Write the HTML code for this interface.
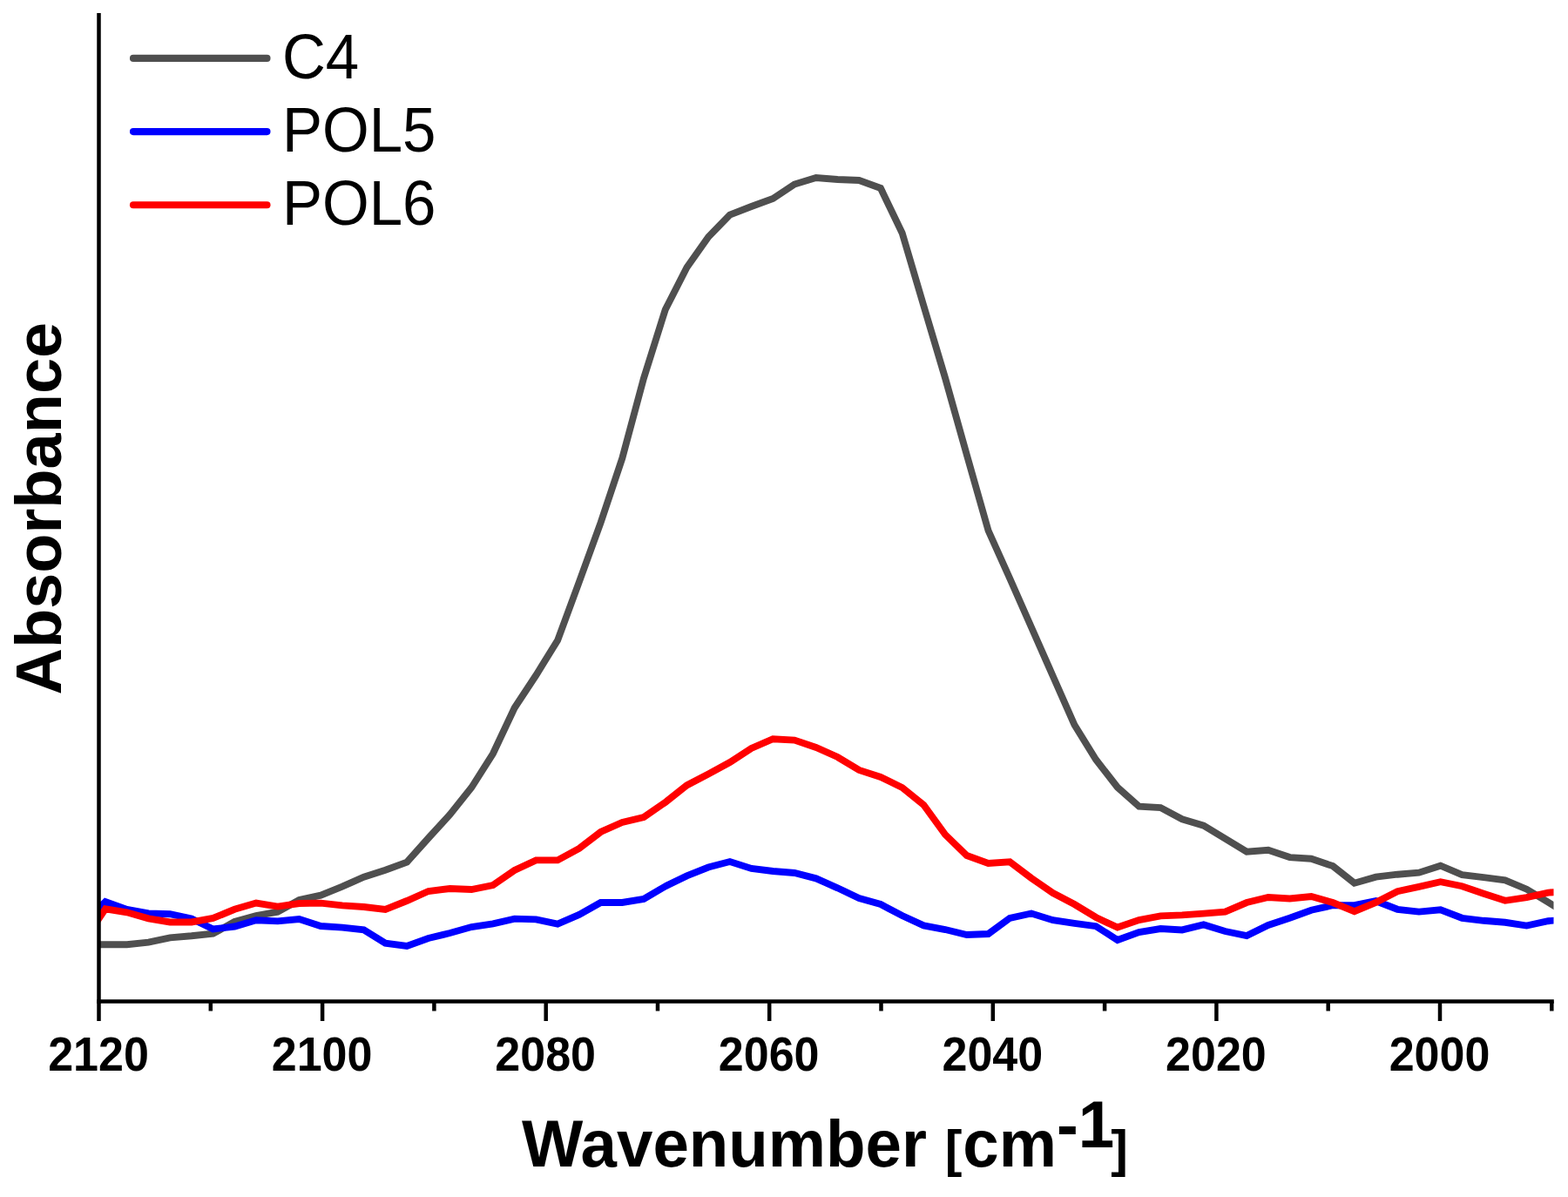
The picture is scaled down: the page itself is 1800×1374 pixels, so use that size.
<!DOCTYPE html>
<html lang="en">
<head>
<meta charset="utf-8">
<title>Absorbance</title>
<style>
html,body{margin:0;padding:0;background:#fff;}
body{width:1800px;height:1374px;overflow:hidden;}
svg{display:block;}
text{font-family:"Liberation Sans",Arial,Helvetica,sans-serif;fill:#000;}
.tick{font-weight:bold;font-size:52px;text-anchor:middle;}
.axl{font-weight:bold;font-size:74.5px;}
.ayl{font-weight:bold;font-size:74px;text-anchor:middle;}
.leg{font-size:69px;}
.curve{fill:none;stroke-width:7.9;stroke-linejoin:miter;stroke-linecap:butt;}
.legline{fill:none;stroke-width:8.1;stroke-linecap:round;}
.ax{stroke:#000;stroke-width:4.5;fill:none;stroke-linecap:butt;}
</style>
</head>
<body>
<svg width="1800" height="1374" viewBox="0 0 1800 1374" role="img" aria-label="Absorbance versus Wavenumber [cm-1] for C4, POL5 and POL6">
<rect x="0" y="0" width="1800" height="1374" fill="#ffffff"/>
<defs><clipPath id="plot"><rect x="113.5" y="0" width="1670.0" height="1160"/></clipPath></defs>
<g clip-path="url(#plot)">
<polyline class="curve" stroke="#4f4f4f" points="96.28,1084.2 121,1084.2 145.72,1084.2 170.44,1081.7 195.16,1076.3 219.88,1074.3 244.6,1071.7 269.32,1058 294.04,1051 318.76,1046.7 343.48,1033.1 368.2,1027.7 392.92,1017.7 417.64,1006.7 442.36,998.7 467.08,989.7 491.8,962 516.52,935 541.24,904 565.96,865 590.68,812.5 615.4,775 640.12,735 664.84,668 689.56,600 714.28,526 739,434 763.72,355.5 788.44,307 813.16,272 837.88,246.5 862.6,237 887.32,228 912.04,211.5 936.76,204 961.48,206 986.2,207 1010.92,216 1035.64,267.5 1060.36,351 1085.08,434 1109.8,522 1134.52,609 1159.24,664 1183.96,720 1208.68,776 1233.4,832 1258.12,872 1282.84,903.7 1307.56,925.7 1332.28,927.1 1357,940.3 1381.72,947.7 1406.44,962.7 1431.16,977.7 1455.88,975.7 1480.6,984.1 1505.32,985.7 1530.04,994.1 1554.76,1013.7 1579.48,1006.7 1604.2,1003.7 1628.92,1001.7 1653.64,993.7 1678.36,1004.1 1703.08,1007.1 1727.8,1010.3 1752.52,1020.7 1777.24,1035.7 1801.96,1050.7"/>
<polyline class="curve" stroke="#0000ff" points="96.28,1059.6 121,1035 145.72,1044 170.44,1048.5 195.16,1049.2 219.88,1054.5 244.6,1066.5 269.32,1063.5 294.04,1056.3 318.76,1057.4 343.48,1055 368.2,1063 392.92,1064.6 417.64,1067.4 442.36,1082.6 467.08,1086 491.8,1077 516.52,1071 541.24,1064 565.96,1060.4 590.68,1054.6 615.4,1055.4 640.12,1060.6 664.84,1050 689.56,1036 714.28,1036 739,1032 763.72,1017.4 788.44,1005.4 813.16,995.5 837.88,989 862.6,996.9 887.32,1000 912.04,1002 936.76,1008.3 961.48,1019.3 986.2,1031 1010.92,1038 1035.64,1051 1060.36,1062.4 1085.08,1067 1109.8,1073 1134.52,1072 1159.24,1053.9 1183.96,1048.5 1208.68,1056.2 1233.4,1059.8 1258.12,1063.2 1282.84,1079 1307.56,1070 1332.28,1066 1357,1067.4 1381.72,1061.4 1406.44,1069 1431.16,1074 1455.88,1062 1480.6,1053.7 1505.32,1044.7 1530.04,1039.2 1554.76,1039.2 1579.48,1034.2 1604.2,1043.8 1628.92,1046.6 1653.64,1044.2 1678.36,1053.8 1703.08,1056.8 1727.8,1058.8 1752.52,1062.6 1777.24,1057.2 1801.96,1055.2"/>
<polyline class="curve" stroke="#ff0000" points="96.28,1080 121,1043.4 145.72,1047.3 170.44,1054.3 195.16,1058.5 219.88,1058.5 244.6,1054 269.32,1043.8 294.04,1036.5 318.76,1040.6 343.48,1037 368.2,1036.6 392.92,1039.4 417.64,1041 442.36,1044 467.08,1034 491.8,1023 516.52,1020 541.24,1021 565.96,1016 590.68,999 615.4,987.4 640.12,987.4 664.84,974 689.56,955 714.28,944 739,938 763.72,921 788.44,901.4 813.16,888.5 837.88,875 862.6,859 887.32,848.2 912.04,849.6 936.76,858 961.48,869 986.2,884 1010.92,892 1035.64,904 1060.36,924 1085.08,958 1109.8,982 1134.52,991 1159.24,989.3 1183.96,1008 1208.68,1025 1233.4,1038 1258.12,1053 1282.84,1064.6 1307.56,1056 1332.28,1051.4 1357,1050.4 1381.72,1048.6 1406.44,1046.6 1431.16,1036 1455.88,1030 1480.6,1031.5 1505.32,1029 1530.04,1036 1554.76,1046.2 1579.48,1035.8 1604.2,1023.2 1628.92,1017.8 1653.64,1012.2 1678.36,1017.2 1703.08,1025.8 1727.8,1033.8 1752.52,1030.2 1777.24,1024.6 1801.96,1023.2"/>
</g>
<g class="ax">
<line x1="113.5" y1="15" x2="113.5" y2="1151.75"/>
<line x1="111.25" y1="1149.5" x2="1783.8" y2="1149.5"/>
<line x1="113.5" y1="1149.5" x2="113.5" y2="1172"/>
<line x1="370.1" y1="1149.5" x2="370.1" y2="1172"/>
<line x1="626.7" y1="1149.5" x2="626.7" y2="1172"/>
<line x1="883.2" y1="1149.5" x2="883.2" y2="1172"/>
<line x1="1139.8" y1="1149.5" x2="1139.8" y2="1172"/>
<line x1="1396.4" y1="1149.5" x2="1396.4" y2="1172"/>
<line x1="1653.0" y1="1149.5" x2="1653.0" y2="1172"/>
<line x1="241.8" y1="1149.5" x2="241.8" y2="1160.5"/>
<line x1="498.4" y1="1149.5" x2="498.4" y2="1160.5"/>
<line x1="755.0" y1="1149.5" x2="755.0" y2="1160.5"/>
<line x1="1011.5" y1="1149.5" x2="1011.5" y2="1160.5"/>
<line x1="1268.1" y1="1149.5" x2="1268.1" y2="1160.5"/>
<line x1="1524.7" y1="1149.5" x2="1524.7" y2="1160.5"/>
<line x1="1781.3" y1="1149.5" x2="1781.3" y2="1160.5"/>
</g>
<text class="tick" transform="translate(113.0,1228.5) scale(1,1.06)">2120</text>
<text class="tick" transform="translate(369.6,1228.5) scale(1,1.06)">2100</text>
<text class="tick" transform="translate(626.2,1228.5) scale(1,1.06)">2080</text>
<text class="tick" transform="translate(882.7,1228.5) scale(1,1.06)">2060</text>
<text class="tick" transform="translate(1139.3,1228.5) scale(1,1.06)">2040</text>
<text class="tick" transform="translate(1395.9,1228.5) scale(1,1.06)">2020</text>
<text class="tick" transform="translate(1652.5,1228.5) scale(1,1.06)">2000</text>
<text class="axl" transform="translate(599,1339) scale(1,1.015)">Wavenumber <tspan font-size="59" dx="0">[</tspan><tspan dx="1">cm</tspan><tspan font-size="74.5" dx="0" dy="-22">-1</tspan><tspan font-size="59" dx="-4" dy="22">]</tspan></text>
<text class="ayl" transform="translate(70.2,583.6) rotate(-90) scale(1,1.01)">Absorbance</text>
<line class="legline" stroke="#4f4f4f" x1="153" y1="66.9" x2="306.5" y2="66.9"/>
<text class="leg" transform="translate(324,90.2) scale(1,1.06)">C4</text>
<line class="legline" stroke="#0000ff" x1="153" y1="151.1" x2="306.5" y2="151.1"/>
<text class="leg" transform="translate(324,174.4) scale(1,1.06)">POL5</text>
<line class="legline" stroke="#ff0000" x1="153" y1="235.3" x2="306.5" y2="235.3"/>
<text class="leg" transform="translate(324,258.0) scale(1,1.06)">POL6</text>
</svg>
</body>
</html>
